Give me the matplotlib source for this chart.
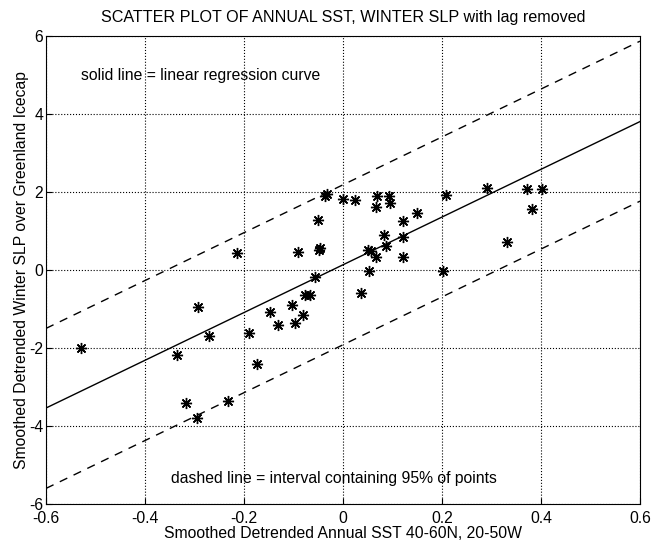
import matplotlib
matplotlib.use("Agg")
import matplotlib.pyplot as plt
import numpy as np

plt.rcParams['font.family'] = ['Liberation Sans', 'DejaVu Sans']
plt.rcParams['axes.unicode_minus'] = False

# points (SST anomaly, SLP anomaly)
sst = [-0.530, -0.335, -0.318, -0.296, -0.293, -0.270, -0.232, -0.214,
       -0.189, -0.173, -0.147, -0.131, -0.104, -0.098, -0.090, -0.080,
       -0.076, -0.067, -0.056, -0.050, -0.048, -0.046, -0.036, -0.032,
       0.000, 0.024, 0.036, 0.050, 0.056, 0.052, 0.066, 0.068,
       0.067, 0.082, 0.087, 0.093, 0.094, 0.122, 0.122, 0.122,
       0.150, 0.202, 0.209, 0.290, 0.332, 0.371, 0.382, 0.402]
slp = [-2.00, -2.18, -3.41, -3.80, -0.95, -1.69, -3.35, 0.44,
       -1.63, -2.40, -1.09, -1.41, -0.89, -1.37, 0.47, -1.15,
       -0.64, -0.64, -0.18, 1.29, 0.50, 0.56, 1.90, 1.95,
       1.81, 1.79, -0.59, 0.50, 0.48, -0.03, 1.61, 1.90,
       0.33, 0.89, 0.62, 1.89, 1.72, 1.24, 0.83, 0.32,
       1.45, -0.04, 1.92, 2.09, 0.71, 2.08, 1.55, 2.07]

# regression line and 95% band, end points
line_x = [-0.6, 0.6]
fit_y = [-3.54, 3.80]
upper_y = [-1.50, 5.86]
lower_y = [-5.60, 1.76]

fs = 11.3

fig = plt.figure(figsize=(6.52, 5.46), dpi=100)
ax = fig.add_axes([0.0706, 0.0769, 0.9110, 0.8577])

ax.plot(sst, slp, linestyle='none', marker=(8, 2, 0), markersize=8,
        markeredgewidth=1.0, color='black')
ax.plot(line_x, fit_y, '-', color='black', linewidth=1.0)
ax.plot(line_x, upper_y, '--', color='black', linewidth=1.0, dashes=(6, 5))
ax.plot(line_x, lower_y, '--', color='black', linewidth=1.0, dashes=(6, 5))

ax.set_xlim(-0.6, 0.6)
ax.set_ylim(-6, 6)
ax.set_xticks(np.arange(-0.6, 0.61, 0.2))
ax.set_xticklabels(['-0.6', '-0.4', '-0.2', '0', '0.2', '0.4', '0.6'])
ax.set_yticks(np.arange(-6, 7, 2))
ax.tick_params(direction='in', length=4, labelsize=fs, colors='black')
ax.tick_params(axis='x', pad=5)
ax.tick_params(axis='y', pad=2)
ax.grid(True, linestyle=':', color='black', linewidth=0.8)

ax.text(-0.529, 4.99, 'solid line = linear regression curve', fontsize=fs,
        va='center', ha='left')
ax.text(-0.348, -5.34, 'dashed line = interval containing 95% of points',
        fontsize=fs, va='center', ha='left')

ax.set_title('SCATTER PLOT OF ANNUAL SST, WINTER SLP with lag removed',
             fontsize=11.6, pad=10)
ax.set_xlabel('Smoothed Detrended Annual SST 40-60N, 20-50W', fontsize=fs,
              labelpad=0)
ax.set_ylabel('Smoothed Detrended Winter SLP over Greenland Icecap',
              fontsize=fs, labelpad=0)

fig.savefig('out.png', dpi=100)
